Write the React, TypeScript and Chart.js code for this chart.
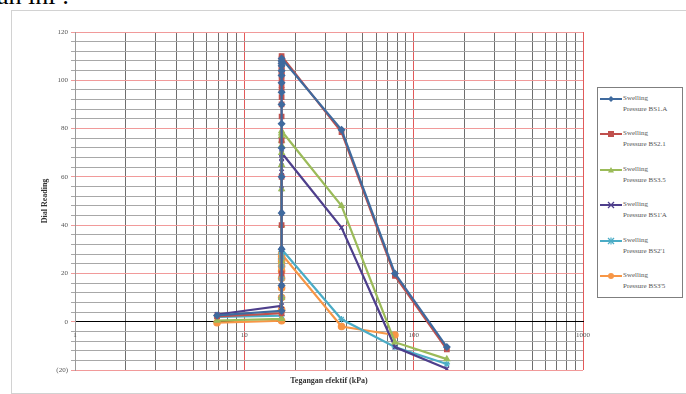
import React, { useEffect, useRef } from 'react';
import { Chart, registerables } from 'chart.js';

Chart.register(...registerables);

// ---- data ----
const seriesNames = [
  'Swelling Pressure BS1.A',
  'Swelling Pressure BS2.1',
  'Swelling Pressure BS3.5',
  "Swelling Pressure BS1'A",
  "Swelling Pressure BS2'1",
  "Swelling Pressure BS3'5",
];
const seriesColors = ['#3F6A9E', '#C0504D', '#9BBB59', '#4E3F8C', '#4BACC6', '#F79646'];
const pointStyles = ['rectRot', 'rect', 'triangle', 'crossRot', 'star', 'circle'];

const startPressure = 6.9; // kPa
const swellPressure = 16.6; // kPa
const loadPressures = [37.5, 77.5, 157];

const startReadings = [2.6, 2.2, 0.5, 3.0, 2.0, -0.4];

const swellS1 = [4.5, 15, 30, 45, 60, 72, 82, 90, 95, 99, 102, 104, 106, 107, 108, 109];
const swellS2 = [3.5, 20, 40, 60, 75, 85, 90, 93, 96, 98, 100, 102, 103, 104, 105, 106, 107, 108, 109, 110];
const swellS3 = [1.2, 10, 25, 40, 55, 65, 70, 73, 75, 77, 78, 79];
const swellS4 = [6.6, 15, 30, 45, 55, 62, 66, 68, 69, 70];
const swellS5 = [2.5, 10, 18, 23, 26, 28, 29, 30];
const swellS6 = [0.4, 5, 10, 14, 18, 21, 23, 25, 26, 27, 28];

const loadS1 = [79.5, 20, -10.5];
const loadS2 = [78.5, 19, -11.5];
const loadS3 = [48, -8.5, -15.5];
const loadS4 = [39, -10.5, -19.5];
const loadS5 = [1, -10.5, -17.5];
const loadS6 = [-2, -5.5];

const swellReadings = [swellS1, swellS2, swellS3, swellS4, swellS5, swellS6];
const loadReadings = [loadS1, loadS2, loadS3, loadS4, loadS5, loadS6];

const xTickLabels = [1, 10, 100, 1000];
const xGridValues = [1, 2, 3, 4, 5, 6, 7, 8, 9, 10, 20, 30, 40, 50, 60, 70, 80, 90, 100, 200, 300, 400, 500, 600, 700, 800, 900, 1000];
const yMin = -20;
const yMax = 120;

const FONT = '"Liberation Serif", "Times New Roman", serif';

function buildPoints(i: number) {
  const pts: { x: number; y: number }[] = [{ x: startPressure, y: startReadings[i] }];
  swellReadings[i].forEach((y) => pts.push({ x: swellPressure, y }));
  loadReadings[i].forEach((y, k) => pts.push({ x: loadPressures[k], y }));
  return pts;
}

function Marker({ style, color }: { style: string; color: string }) {
  const cx = 11, cy = 5;
  if (style === 'rectRot') return <polygon points={`${cx},${cy - 3} ${cx + 3},${cy} ${cx},${cy + 3} ${cx - 3},${cy}`} fill={color} />;
  if (style === 'rect') return <rect x={cx - 3} y={cy - 3} width={6} height={6} fill={color} />;
  if (style === 'triangle') return <polygon points={`${cx},${cy - 3} ${cx + 3},${cy + 2.5} ${cx - 3},${cy + 2.5}`} fill={color} />;
  if (style === 'crossRot')
    return (
      <g stroke={color} strokeWidth={1.2}>
        <line x1={cx - 3} y1={cy - 3} x2={cx + 3} y2={cy + 3} />
        <line x1={cx - 3} y1={cy + 3} x2={cx + 3} y2={cy - 3} />
      </g>
    );
  if (style === 'star')
    return (
      <g stroke={color} strokeWidth={1.2}>
        <line x1={cx - 3} y1={cy - 3} x2={cx + 3} y2={cy + 3} />
        <line x1={cx - 3} y1={cy + 3} x2={cx + 3} y2={cy - 3} />
        <line x1={cx} y1={cy - 3.5} x2={cx} y2={cy + 3.5} />
      </g>
    );
  return <circle cx={cx} cy={cy} r={3} fill={color} />;
}

// draws the x tick labels just below the y = 0 axis line
const xLabelsPlugin = {
  id: 'xLabelsBelowZero',
  afterDraw(chart: any) {
    const { ctx, scales } = chart;
    const xs = scales.x;
    const ys = scales.y;
    const y0 = ys.getPixelForValue(0) + 13;
    ctx.save();
    ctx.font = `7px ${FONT}`;
    ctx.fillStyle = '#555555';
    ctx.textAlign = 'center';
    ctx.textBaseline = 'middle';
    xTickLabels.forEach((v) => {
      ctx.fillText(String(v), xs.getPixelForValue(v), y0);
    });
    ctx.restore();
  },
};

export default function App() {
  const canvasRef = useRef<HTMLCanvasElement | null>(null);

  useEffect(() => {
    if (!canvasRef.current) return;
    const datasets = seriesNames.map((name, i) => ({
      label: name,
      data: buildPoints(i),
      borderColor: seriesColors[i],
      backgroundColor: seriesColors[i],
      borderWidth: 2.2,
      pointStyle: pointStyles[i] as any,
      pointRadius: 3.2,
      pointBorderWidth: 1.2,
      pointBorderColor: seriesColors[i],
      pointBackgroundColor: seriesColors[i],
      tension: 0,
    }));

    const chart = new Chart(canvasRef.current, {
      type: 'line',
      data: { datasets },
      plugins: [xLabelsPlugin],
      options: {
        animation: false,
        responsive: false,
        layout: { padding: { top: 21, right: 9, bottom: 13, left: 0 } },
        plugins: {
          legend: { display: false },
          tooltip: { enabled: false },
        },
        scales: {
          x: {
            type: 'logarithmic',
            min: 1,
            max: 1000,
            position: { y: 0 } as any,
            border: { color: '#000000', width: 1 },
            afterBuildTicks: (scale: any) => {
              scale.ticks = xGridValues.map((v) => ({ value: v, major: xTickLabels.includes(v) }));
            },
            grid: {
              drawTicks: false,
              color: (ctx: any) => {
                const v = ctx.tick ? ctx.tick.value : 0;
                return xTickLabels.includes(v) ? '#E25A5A' : '#6E6E6E';
              },
              lineWidth: 1,
            },
            ticks: {
              display: false,
              autoSkip: false,
            },
          },
          y: {
            type: 'linear',
            min: yMin,
            max: yMax,
            border: { color: '#9a9a9a' },
            afterFit: (scale: any) => {
              scale.width = 63;
            },
            grid: {
              tickLength: 4,
              color: (ctx: any) => {
                const v = ctx.tick ? ctx.tick.value : 0;
                return v % 20 === 0 ? '#F19A9A' : '#A8A8A8';
              },
            },
            ticks: {
              stepSize: 4,
              autoSkip: false,
              padding: 3,
              color: '#555555',
              font: { family: FONT, size: 7 },
              callback: (v: any) => {
                const n = Number(v);
                if (n % 20 !== 0) return '';
                return n < 0 ? `(${-n})` : String(n);
              },
            },
            title: {
              display: true,
              text: 'Dial Reading',
              color: '#333333',
              font: { family: FONT, size: 8, weight: 'bold' },
              padding: { top: 28, bottom: 0 },
            },
          },
        },
      },
    });
    return () => chart.destroy();
  }, []);

  return (
    <div
      style={{
        position: 'fixed',
        left: 0,
        top: 0,
        width: 686,
        height: 394,
        overflow: 'hidden',
        background: '#ffffff',
        fontFamily: FONT,
      }}
    >
      <div
        style={{
          position: 'absolute',
          left: -3,
          top: -19,
          fontSize: 26,
          lineHeight: '30px',
          color: '#000',
          whiteSpace: 'nowrap',
        }}
      >
        ah ini :
      </div>
      <div
        style={{
          position: 'absolute',
          left: 11,
          top: 10,
          width: 690,
          height: 382,
          border: '1px solid #d2d2d2',
        }}
      />
      <canvas
        ref={canvasRef}
        width={580}
        height={372}
        style={{ position: 'absolute', left: 12, top: 11, width: 580, height: 372 }}
      />
      <div
        style={{
          position: 'absolute',
          left: 229,
          width: 200,
          top: 376,
          textAlign: 'center',
          fontSize: 8,
          fontWeight: 'bold',
          color: '#333',
          whiteSpace: 'nowrap',
        }}
      >
        Tegangan efektif (kPa)
      </div>
      <div
        style={{
          position: 'absolute',
          left: 597,
          top: 87,
          width: 86,
          height: 211,
          border: '1px solid #7f7f7f',
          boxSizing: 'border-box',
        }}
      >
        {seriesNames.map((name, i) => {
          const parts = name.split(' ');
          return (
            <div key={name} style={{ position: 'absolute', left: 2, top: 6 + i * 35.4, width: 82, height: 24 }}>
              <svg width={22} height={10} style={{ position: 'absolute', left: 0, top: 0 }}>
                <line x1={0} y1={5} x2={22} y2={5} stroke={seriesColors[i]} strokeWidth={2} />
                <Marker style={pointStyles[i]} color={seriesColors[i]} />
              </svg>
              <div
                style={{
                  position: 'absolute',
                  left: 23,
                  top: -1,
                  fontSize: 7,
                  lineHeight: '11px',
                  color: '#555',
                  whiteSpace: 'nowrap',
                }}
              >
                {parts[0]}
                <br />
                {parts.slice(1).join(' ')}
              </div>
            </div>
          );
        })}
      </div>
    </div>
  );
}
